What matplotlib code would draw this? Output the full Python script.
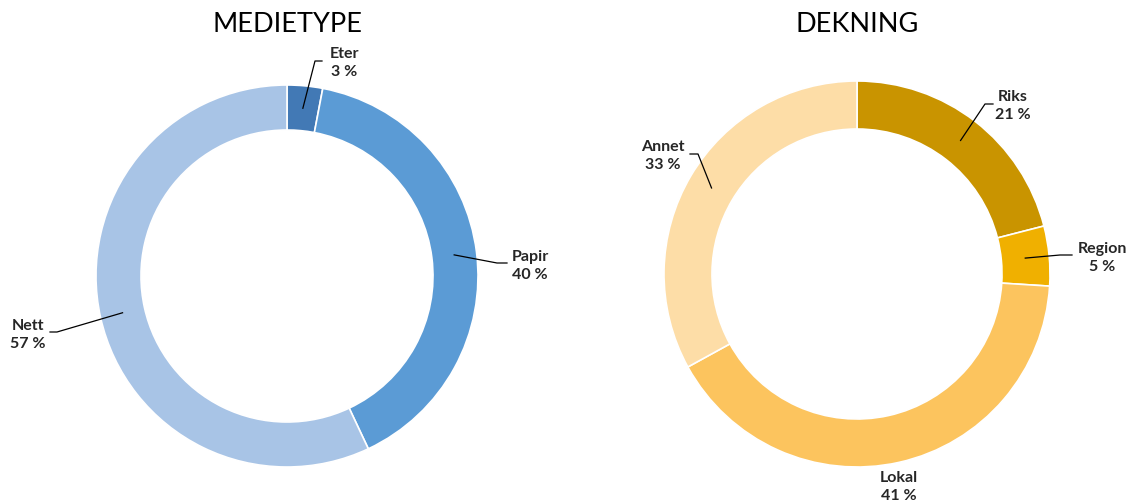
import matplotlib
matplotlib.use("Agg")
import matplotlib.pyplot as plt
import numpy as np

plt.rcParams['font.family'] = ['Lato', 'DejaVu Sans']

# Media type split
media_labels = ['Eter', 'Papir', 'Nett']
media_values = [3, 40, 57]
media_colors = ['#4279B5', '#5B9BD5', '#A8C4E6']

# Coverage split
cover_labels = ['Riks', 'Region', 'Lokal', 'Annet']
cover_values = [21, 5, 41, 33]
cover_colors = ['#C99400', '#F0B000', '#FCC45E', '#FDDDA7']

W, H = 1128, 502
fig = plt.figure(figsize=(W / 100, H / 100), dpi=100)
ax = fig.add_axes([0, 0, 1, 1])
ax.set_xlim(0, W)
ax.set_ylim(0, H)
ax.set_aspect('equal')
ax.axis('off')


def donut(values, colors, center, radius, width):
    wedges, _ = ax.pie(values, colors=colors, startangle=90, counterclock=False,
                       center=center, radius=radius, frame=True,
                       wedgeprops=dict(width=width, edgecolor='white', linewidth=1.2))
    # mid-ring anchor points for each slice
    total = sum(values)
    anchors = []
    cum = 0
    for v in values:
        ang = np.deg2rad(90 - (cum + v / 2) / total * 360)
        r = radius - width / 2
        anchors.append((center[0] + r * np.cos(ang), center[1] + r * np.sin(ang)))
        cum += v
    return anchors


def label(anchor, elbow, tip, text_xy, name, value):
    if elbow is not None:
        ax.plot([anchor[0], elbow[0], tip[0]], [anchor[1], elbow[1], tip[1]],
                color='black', lw=0.9)
    ax.text(text_xy[0], text_xy[1], f'{name}\n{value} %', ha='center', va='center',
            fontsize=11.5, fontweight='bold', color='#262626', linespacing=1.45)


# left donut
left_c = (287, H - 277)
a = donut(media_values, media_colors, left_c, 191, 45)
label(a[0], (315, H - 62), (322, H - 62), (344, H - 63), 'Eter', 3)
label(a[1], (497, H - 264), (507, H - 264), (530, H - 266), 'Papir', 40)
label(a[2], (57, H - 333), (50, H - 333), (28, H - 335), 'Nett', 57)

# right donut
right_c = (857, H - 275)
b = donut(cover_values, cover_colors, right_c, 193, 48)
label(b[0], (985, H - 105), (993, H - 105), (1013, H - 106), 'Riks', 21)
label(b[1], (1060, H - 256), (1072, H - 256), (1102, H - 258), 'Region', 5)
label(b[2], None, None, (899, H - 487), 'Lokal', 41)
label(b[3], (698, H - 155), (690, H - 155), (663, H - 156), 'Annet', 33)

ax.set_xlim(0, W)
ax.set_ylim(0, H)

ax.text(287, H - 25, 'MEDIETYPE', ha='center', va='center', fontsize=19.5, color='black')
ax.text(857, H - 25, 'DEKNING', ha='center', va='center', fontsize=19.5, color='black')

fig.savefig('out.png', dpi=100, facecolor='white')
